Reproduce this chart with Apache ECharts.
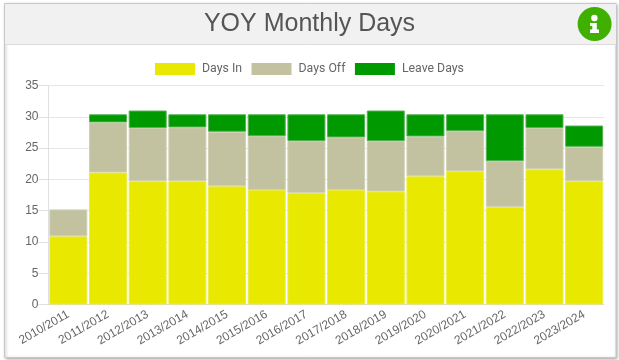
<!DOCTYPE html>
<html>
<head>
<meta charset="utf-8">
<title>YOY Monthly Days</title>
<script src="https://cdn.jsdelivr.net/npm/echarts@6/dist/echarts.min.js"></script>
<style>
  html, body { margin: 0; padding: 0; background: #fff; }
  #chart { width: 619px; height: 360px; }
</style>
</head>
<body>
<div id="chart"></div>
<script>
var years = ['2010/2011', '2011/2012', '2012/2013', '2013/2014', '2014/2015', '2015/2016', '2016/2017',
  '2017/2018', '2018/2019', '2019/2020', '2020/2021', '2021/2022', '2022/2023', '2023/2024'];
var daysIn = [10.9, 21.1, 19.7, 19.7, 18.9, 18.3, 17.8, 18.3, 18.05, 20.5, 21.3, 15.6, 21.6, 19.7];
var daysOff = [4.3, 8, 8.5, 8.6, 8.7, 8.6, 8.3, 8.4, 8.05, 6.35, 6.4, 7.3, 6.6, 5.5];
var leaveDays = [null, 1.3, 2.8, 2.1, 2.8, 3.5, 4.3, 3.7, 4.9, 3.55, 2.7, 7.5, 2.2, 3.4];

var chart = echarts.init(document.getElementById('chart'));

function bar(name, data, color, border) {
  return {
    name: name,
    type: 'bar',
    stack: 'days',
    data: data,
    barWidth: 38,
    itemStyle: { color: color, borderColor: border, borderWidth: 1 },
    emphasis: { disabled: true }
  };
}

chart.setOption({
  animation: false,
  title: {
    text: 'YOY Monthly Days',
    left: 'center',
    top: 7,
    textStyle: { fontFamily: 'Liberation Sans', fontSize: 25, fontWeight: 'normal', color: '#555' }
  },
  legend: {
    top: 63,
    left: 155,
    padding: 0,
    icon: 'rect',
    itemWidth: 40,
    itemHeight: 12,
    itemGap: 9.5,
    itemStyle: { borderWidth: 0 },
    textStyle: { fontFamily: 'Roboto', fontSize: 12.3, color: '#666', padding: [0, 0, 0, 2] },
    data: ['Days In', 'Days Off', 'Leave Days']
  },
  grid: { left: 48.5, right: 15, top: 85.5, bottom: 55.5 },
  xAxis: {
    type: 'category',
    data: years,
    axisLine: { lineStyle: { color: '#dcdcdc' } },
    axisTick: { show: false },
    axisLabel: {
      interval: 0,
      rotate: 30,
      margin: 9,
      fontFamily: 'Liberation Sans',
      fontSize: 12,
      color: '#666'
    }
  },
  yAxis: {
    type: 'value',
    min: 0,
    max: 35,
    interval: 5,
    axisLine: { show: true, lineStyle: { color: '#e0e0e0' } },
    axisTick: { show: true, length: 10, lineStyle: { color: '#e0e0e0' } },
    splitLine: { lineStyle: { color: '#e6e6e6' } },
    axisLabel: { margin: 10, fontFamily: 'Liberation Sans', fontSize: 12, color: '#666' }
  },
  graphic: [
    { type: 'rect', z: -10, shape: { x: 4.5, y: 3.5, width: 611.5, height: 354 }, style: { fill: '#fff', stroke: '#c8c8c8', lineWidth: 1, shadowColor: 'rgba(0,0,0,0.35)', shadowBlur: 3, shadowOffsetX: 1, shadowOffsetY: 1 } },
    { type: 'rect', z: -9, shape: { x: 5, y: 4, width: 611, height: 40 }, style: { fill: '#f1f1f1' } },
    { type: 'line', z: -8, shape: { x1: 5, y1: 44.5, x2: 616, y2: 44.5 }, style: { stroke: '#dcdcdc', lineWidth: 1 } },
    { type: 'circle', z: 5, shape: { cx: 594.6, cy: 24, r: 17 }, style: { fill: '#3fb000' } },
    { type: 'circle', z: 6, shape: { cx: 594.4, cy: 18, r: 3.2 }, style: { fill: '#fff' } },
    { type: 'polygon', z: 6, shape: { points: [[590, 23], [596.8, 23], [596.8, 29.5], [599, 29.5], [599, 33], [590, 33], [590, 29.5], [592.3, 29.5], [592.3, 26], [590, 26]] }, style: { fill: '#fff' } }
  ],
  series: [
    bar('Days In', daysIn, '#e8e800', '#ecec40'),
    bar('Days Off', daysOff, '#c2c2a0', '#cfd0b4'),
    bar('Leave Days', leaveDays, '#009900', '#55b055')
  ]
});
</script>
</body>
</html>
